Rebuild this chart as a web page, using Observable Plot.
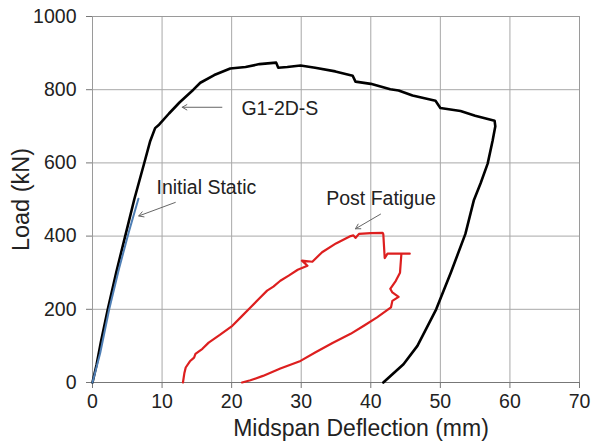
<!DOCTYPE html>
<html>
<head>
<meta charset="utf-8">
<script src="https://cdn.jsdelivr.net/npm/d3@7"></script>
<script src="https://cdn.jsdelivr.net/npm/@observablehq/plot@0.6"></script>
<style>
  html, body { margin: 0; padding: 0; background: #fff; }
  #chart svg { display: block; font-family: "Liberation Sans", Arial, sans-serif; }
</style>
</head>
<body>
<div id="chart"></div>
<script>
// G1-2D-S (black) – [deflection mm, load kN]
const g1Defl = [0,0.6,1.2,2.2,3.4,4.7,6.0,7.4,8.3,9.0,9.6,11,12.5,14.5,15.5,17.5,19.8,22,24,26.4,26.7,28,29.9,32,34.9,37.4,37.8,40,42.8,44,46,49.3,50,52.9,55,57.8,57.9,57.5,56.8,55.8,54.8,53.6,51.5,49.4,46.7,44.7,41.8];
const g1Load = [0,50,110,200,300,400,500,597,660,695,705,735,765,800,819,840,858,862,870,874,860,862,866,860,850,838,822,816,801,798,784,770,750,742,729,715,700,660,598,545,497,406,300,200,100,50,0];

// Initial Static (blue)
const isDefl = [0,1.1,2.4,3.8,5.2,6.6];
const isLoad = [0,80,200,310,410,502];

// Post Fatigue (red)
const pfDefl = [13.0,13.2,13.4,14.0,14.6,14.8,15.8,16.7,18.3,20.1,21.4,22.7,23.9,25.1,26.0,27.0,28.2,29.5,30.9,30.1,31.6,33,35,37.1,37.5,37.8,38.3,40,41.7,41.8,42.0,42.4,45.6,44.4,44.2,43.6,42.8,43.1,44.0,43.1,42.9,40.9,39.0,37.1,34.5,32,29.9,27,24.5,22.7,21.5];
const pfLoad = [0,25,41,58,68,78,92,109,130,155,180,205,228,251,262,278,292,308,319,333,330,356,380,400,402,395,406,408,409,405,340,352,352,352,300,278,256,246,234,223,205,178,155,133,108,82,59,38,18,6,0];

// Annotations
const labels = ["G1-2D-S", "Initial Static", "Post Fatigue"];
const labelX = [21.4, 9.2, 33.6];
const labelY = [747, 533, 501];
const arrowX1 = [18.6, 11.9, 41.4];
const arrowY1 = [752, 492, 460];
const arrowX2 = [12.9, 6.65, 37.8];
const arrowY2 = [752, 455, 420];

const xTicks = [0,10,20,30,40,50,60,70];
const yTicks = [0,200,400,600,800,1000];

const zip = (xs, ys) => xs.map((x, i) => ({x, y: ys[i]}));
const g1 = zip(g1Defl, g1Load);
const is = zip(isDefl, isLoad);
const pf = zip(pfDefl, pfLoad);
const notes = labels.map((t, i) => ({t, x: labelX[i], y: labelY[i]}));
const arrows = labels.map((t, i) => ({x1: arrowX1[i], y1: arrowY1[i], x2: arrowX2[i], y2: arrowY2[i]}));

const chart = Plot.plot({
  width: 592,
  height: 442,
  marginLeft: 92,
  marginRight: 13,
  marginTop: 16,
  marginBottom: 60,
  style: {fontFamily: "'Liberation Sans', Arial, sans-serif", color: "#222", background: "#fff"},
  x: {domain: [0, 70]},
  y: {domain: [0, 1000]},
  marks: [
    Plot.gridX(xTicks, {stroke: "#a8a8a8", strokeOpacity: 1}),
    Plot.gridY(yTicks, {stroke: "#a8a8a8", strokeOpacity: 1}),
    Plot.frame({stroke: "#9a9a9a"}),
    Plot.ruleY([0], {stroke: "#777", strokeWidth: 1.2}),
    Plot.axisX(xTicks, {tickSize: 6, tickPadding: 6, fontSize: 19.5, label: null, stroke: "#777", tickFormat: d3.format("d")}),
    Plot.axisY(yTicks, {tickSize: 6, tickPadding: 10, fontSize: 19.5, label: null, stroke: "#777", tickFormat: d3.format("d")}),
    Plot.text(["Midspan Deflection (mm)"], {frameAnchor: "bottom", textAnchor: "middle", dx: 25, dy: 46, fontSize: 23, lineAnchor: "middle", fill: "#222"}),
    Plot.text(["Load (kN)"], {frameAnchor: "left", textAnchor: "middle", dx: -71, rotate: -90, fontSize: 23.5, lineAnchor: "middle", fill: "#222"}),
    Plot.line(g1, {x: "x", y: "y", stroke: "#000", strokeWidth: 2.6}),
    Plot.line(is, {x: "x", y: "y", stroke: "#4f7fb5", strokeWidth: 2}),
    Plot.line(pf, {x: "x", y: "y", stroke: "#dd1f1f", strokeWidth: 2.2}),
    Plot.arrow(arrows, {x1: "x1", y1: "y1", x2: "x2", y2: "y2", stroke: "#666", strokeWidth: 1, headLength: 8, bend: 0}),
    Plot.text(notes, {x: "x", y: "y", text: "t", textAnchor: "start", lineAnchor: "middle", fontSize: 19.5, fill: "#222"})
  ]
});
document.getElementById("chart").appendChild(chart);
</script>
</body>
</html>
